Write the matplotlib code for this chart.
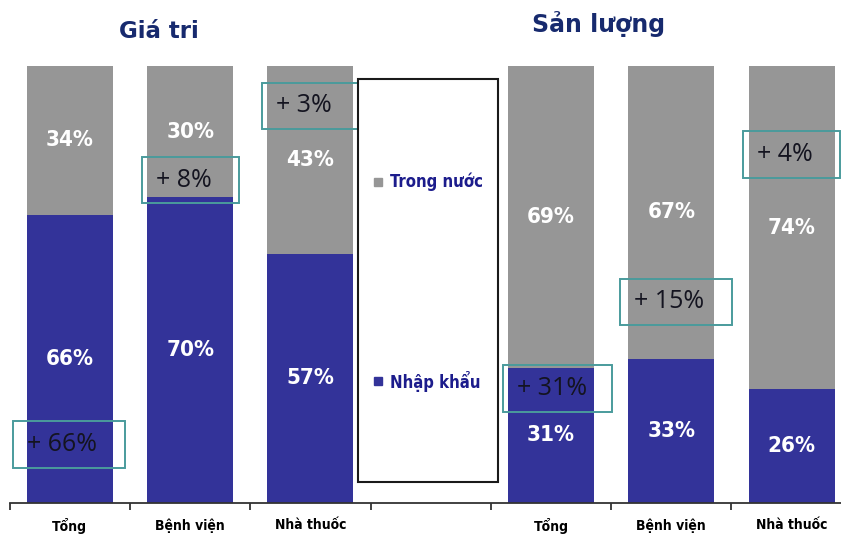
import matplotlib
matplotlib.use("Agg")
import matplotlib.pyplot as plt
from matplotlib.patches import Rectangle

# ---- data ----
categories = ["Tổng", "Bệnh viện", "Nhà thuốc", "", "Tổng", "Bệnh viện", "Nhà thuốc"]
bar_slots = [0, 1, 2, 4, 5, 6]
nhap_khau = [66, 70, 57, 31, 33, 26]      # imported (blue, bottom)
trong_nuoc = [34, 30, 43, 69, 67, 74]     # domestic (gray, top)
growth = [66, 8, 3, 31, 15, 4]            # growth annotations
series_names = ["Trong nước", "Nhập khẩu"]
titles = ["Giá tri", "Sản lượng"]

# ---- layout (annotation boxes, data coords) ----
box_x0 = [-0.473, 0.600, 1.597, 3.600, 4.573, 5.595]
box_x1 = [0.458, 1.406, 2.395, 4.506, 5.504, 6.401]
box_y0 = [8.0, 68.6, 85.6, 20.8, 40.7, 74.4]
box_y1 = [18.8, 79.2, 96.1, 31.6, 51.3, 85.1]

GRAY = "#969696"
BLUE = "#333399"
TEAL = "#4a9b9c"
NAVY = "#172a6e"
NARROW = ["DejaVu Sans"]
STRETCH = "condensed"

fig = plt.figure(figsize=(8.41, 5.38), dpi=100)
ax = fig.add_axes([9.7 / 841, 35 / 538, 842.1 / 841, 437 / 538])

ax.bar(bar_slots, nhap_khau, width=0.715, color=BLUE, edgecolor="none", zorder=2)
ax.bar(bar_slots, trong_nuoc, width=0.715, bottom=nhap_khau, color=GRAY,
       edgecolor="none", zorder=2)

for x, b, t in zip(bar_slots, nhap_khau, trong_nuoc):
    ax.text(x, b / 2, f"{b}%", ha="center", va="center", color="white",
            fontsize=16, fontweight="bold", family=NARROW, fontstretch=STRETCH, zorder=4)
    ax.text(x, b + t / 2, f"{t}%", ha="center", va="center", color="white",
            fontsize=16, fontweight="bold", family=NARROW, fontstretch=STRETCH, zorder=4)

for g, x0, x1, y0, y1 in zip(growth, box_x0, box_x1, box_y0, box_y1):
    ax.add_patch(Rectangle((x0, y0), x1 - x0, y1 - y0, fill=False,
                           edgecolor=TEAL, lw=1.4, zorder=5, clip_on=False))
    ax.text(x0 + 0.115, (y0 + y1) / 2, f"+ {g}%", ha="left", va="center",
            color="#141420", fontsize=18, family=["Open Sans", "DejaVu Sans"],
            zorder=6)

# legend box in the empty slot
ax.add_patch(Rectangle((2.395, 4.8), 3.559 - 2.395, 97.0 - 4.8, fill=False,
                       edgecolor="#1a1a1a", lw=1.5, zorder=5, clip_on=False))
for name, col, y in zip(series_names, [GRAY, BLUE], [73.4, 27.9]):
    ax.plot([2.561], [y], marker="s", ms=6, color=col, ls="none", zorder=6)
    ax.text(2.665, y, name, ha="left", va="center", color="#1c1c8c",
            fontsize=12, fontweight="bold", family=NARROW, fontstretch=STRETCH, zorder=6)

ax.set_xlim(-0.5, 6.5)
ax.set_ylim(0, 100)
for s in ["top", "right", "left"]:
    ax.spines[s].set_visible(False)
ax.spines["bottom"].set_color("#333333")
ax.spines["bottom"].set_linewidth(1.3)
ax.set_yticks([])
ax.set_xticks(range(len(categories)))
ax.set_xticklabels(categories, fontsize=10, fontweight="bold", family=NARROW,
                   fontstretch=STRETCH)
ax.set_xticks([i - 0.5 for i in range(len(categories) + 1)], minor=True)
ax.tick_params(axis="x", which="major", length=0, pad=11)
ax.tick_params(axis="x", which="minor", length=5, width=1.3, color="#333333",
               direction="out")

fig.text(159 / 841, 1 - 32 / 538, titles[0], ha="center", va="center",
         color=NAVY, fontsize=16.5, fontweight="bold", family="DejaVu Sans")
fig.text(599 / 841, 1 - 24 / 538, titles[1], ha="center", va="center",
         color=NAVY, fontsize=17, fontweight="bold", family="DejaVu Sans")

fig.savefig("out.png", dpi=100)
